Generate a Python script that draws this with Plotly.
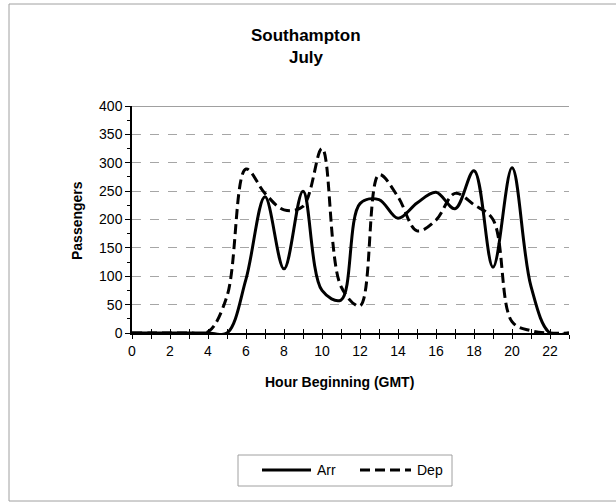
import plotly.graph_objects as go

hours = list(range(24))
arr = [0, 0, 0, 0, 0, 0, 95, 240, 113, 250, 75, 58, 228, 235, 202, 229, 248, 219, 286, 116, 291, 82, 0, 0]
dep = [0, 0, 0, 0, 2, 65, 289, 246, 217, 223, 325, 82, 48, 279, 240, 180, 199, 246, 226, 200, 20, 4, 0, 0]
x_ticklabels = [str(h) if h % 2 == 0 else "" for h in hours]
y_ticks = [0, 50, 100, 150, 200, 250, 300, 350, 400]
series_names = ["Arr", "Dep"]

FONT = "Liberation Sans, Arial, sans-serif"
W, H = 616, 502
L, R, T, B = 132, 569, 106, 333

def px(x):
    return (x - L) / (R - L)

def py(y):
    return (B - y) / (B - T)

DASH = "10px,5px"

fig = go.Figure()
fig.add_trace(go.Scatter(x=hours, y=arr, name=series_names[0], mode="lines",
                         line=dict(color="black", width=3, shape="spline", smoothing=1.0)))
fig.add_trace(go.Scatter(x=hours, y=dep, name=series_names[1], mode="lines",
                         line=dict(color="black", width=3, shape="spline", smoothing=1.0, dash=DASH)))
# overlay axis carrying the inner half of the crossing x ticks
fig.add_trace(go.Scatter(x=[0, 23], y=[0, 0], xaxis="x2", mode="lines",
                         line=dict(width=0), showlegend=False, hoverinfo="skip"))

# legend (drawn as a boxed key below the plot)
LEG_Y = 470
shapes = [
    dict(type="line", xref="paper", yref="y", x0=0, x1=1, y0=400, y1=400,
         line=dict(color="#808080", width=1.5)),
    dict(type="rect", xref="paper", yref="paper", x0=px(9), x1=px(625), y0=py(4), y1=py(501),
         line=dict(color="#a0a0a0", width=1), layer="below"),
    dict(type="rect", xref="paper", yref="paper", x0=px(238), x1=px(452), y0=py(455), y1=py(486),
         line=dict(color="#a0a0a0", width=1), fillcolor="white"),
    dict(type="line", xref="paper", yref="paper", x0=px(262), x1=px(311), y0=py(LEG_Y), y1=py(LEG_Y),
         line=dict(color="black", width=3)),
    dict(type="line", xref="paper", yref="paper", x0=px(360), x1=px(411), y0=py(LEG_Y), y1=py(LEG_Y),
         line=dict(color="black", width=3, dash=DASH)),
]

fig.update_layout(
    width=W, height=H,
    margin=dict(l=L, r=W - R, t=T, b=H - B, pad=0),
    paper_bgcolor="white", plot_bgcolor="white",
    font=dict(family=FONT, size=14, color="black"),
    showlegend=False,
    xaxis=dict(range=[0, 23], tickmode="array", tickvals=hours, ticktext=x_ticklabels,
               ticks="outside", ticklen=4, tickcolor="black", tickwidth=1,
               showline=True, linecolor="black", linewidth=1.5, showgrid=False,
               zeroline=False, tickfont=dict(size=14), fixedrange=True),
    xaxis2=dict(range=[0, 23], overlaying="x", tickmode="array", tickvals=hours,
                ticktext=[""] * 24, ticks="inside", ticklen=4, tickcolor="black",
                showline=False, showgrid=False, zeroline=False, side="bottom", anchor="y"),
    yaxis=dict(range=[0, 400], tickmode="array", tickvals=y_ticks,
               ticks="outside", ticklen=5, tickcolor="black",
               minor=dict(dtick=25, ticks="outside", ticklen=3, tickcolor="black", showgrid=False),
               showline=True, linecolor="black", linewidth=1.5,
               showgrid=True, gridcolor="#a6a6a6", griddash="dash", gridwidth=1,
               zeroline=False, tickfont=dict(size=14), fixedrange=True),
    annotations=[
        dict(text="<b>Southampton</b>", x=px(306), y=py(35), xref="paper", yref="paper",
             showarrow=False, font=dict(size=17), xanchor="center", yanchor="middle"),
        dict(text="<b>July</b>", x=px(306), y=py(57), xref="paper", yref="paper",
             showarrow=False, font=dict(size=17), xanchor="center", yanchor="middle"),
        dict(text="<b>Passengers</b>", x=px(77), y=py(221), xref="paper", yref="paper",
             showarrow=False, textangle=-90, font=dict(size=14), xanchor="center", yanchor="middle"),
        dict(text="<b>Hour Beginning (GMT)</b>", x=px(339), y=py(382), xref="paper", yref="paper",
             showarrow=False, font=dict(size=14), xanchor="center", yanchor="middle"),
        dict(text=series_names[0], x=px(315), y=py(LEG_Y), xref="paper", yref="paper",
             showarrow=False, font=dict(size=14), xanchor="left", yanchor="middle"),
        dict(text=series_names[1], x=px(415), y=py(LEG_Y), xref="paper", yref="paper",
             showarrow=False, font=dict(size=14), xanchor="left", yanchor="middle"),
    ],
    shapes=shapes,
)

fig.write_html("out.html", config={"displayModeBar": False},
               post_script="document.body.style.margin='0';document.body.style.overflow='hidden';")
